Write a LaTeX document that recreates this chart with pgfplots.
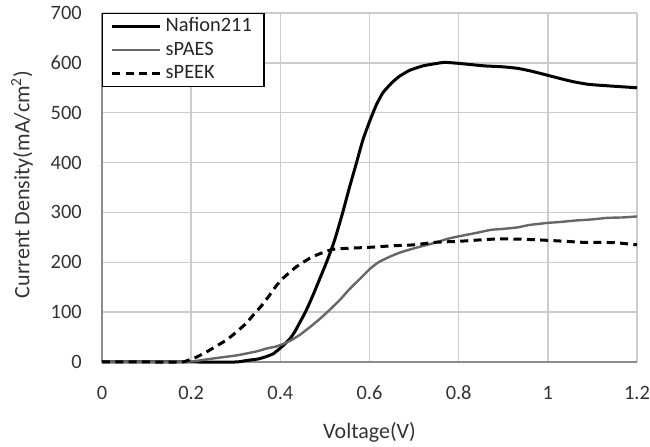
\documentclass[border=0pt]{standalone}
\usepackage{pgfplots}
\pgfplotsset{compat=1.18}
\usepackage{fontspec}
\setmainfont{Carlito}
\usetikzlibrary{calc}
\definecolor{txt}{HTML}{333333}
\definecolor{gridc}{HTML}{CCCCCC}
\definecolor{axc}{HTML}{8C8C8C}
\definecolor{paes}{HTML}{666666}
\begin{document}
\begin{tikzpicture}
\begin{axis}[
  name=ax,
  scale only axis,
  width=401.25pt, height=261.75pt,
  xmin=0, xmax=1.2, ymin=0, ymax=700,
  xtick={0,0.2,0.4,0.6,0.8,1,1.2},
  ytick={0,100,200,300,400,500,600,700},
  /pgf/number format/assume math mode=true,
  major tick length=0pt,
  axis lines=left,
  axis line style={draw=axc, line width=1pt, -},
  grid=major,
  grid style={draw=gridc, line width=1pt},
  xticklabel style={font=\fontsize{15.3}{18}\selectfont, text=txt, anchor=center, inner sep=0pt, yshift=-23pt},
  yticklabel style={font=\fontsize{15.3}{18}\selectfont, text=txt, anchor=east, inner sep=0pt, xshift=-15pt},
  every axis x label/.style={at={(rel axis cs:0.5,0)}, anchor=center, yshift=-53pt, font=\fontsize{16.5}{20}\selectfont, text=txt},
  every axis y label/.style={at={(rel axis cs:0,0.5)}, xshift=-60pt, yshift=2.25pt, rotate=90, anchor=center, font=\fontsize{16.5}{20}\selectfont, text=txt},
  xlabel={Voltage(V)},
  ylabel={Current Density(mA/cm\textsuperscript{2})},
  legend image code/.code={\draw[#1] (0pt,0pt) -- (36pt,0pt);},
  legend style={at={(rel axis cs:0,1)}, anchor=north west, draw=black, line width=1.1pt, fill=white,
    font=\fontsize{15.3}{18}\selectfont, text=black!85, inner xsep=6pt, inner ysep=1pt, row sep=0pt,
    nodes={inner ysep=1.5pt, inner xsep=3pt, text height=11pt, text depth=3.5pt},
    cells={anchor=west}},
  legend cell align=left,
  clip=false,
]
\addplot[black, line width=2.25pt, smooth, tension=0.3] coordinates {
(0,0)(0.2,0)(0.3,0)(0.324,3)(0.35,6)(0.369,11)(0.385,17)(0.4,28)(0.41,36)(0.421,46)(0.432,60)(0.443,78)(0.455,98)(0.466,119)(0.477,142)(0.488,166)(0.5,192)(0.51,215)(0.522,245)(0.54,300)(0.555,350)(0.57,397)(0.585,445)(0.6,482)(0.615,515)(0.63,540)(0.65,560)(0.667,573)(0.69,585)(0.72,594)(0.745,598)(0.768,601)(0.8,599)(0.857,594)(0.9,592)(0.932,589)(0.96,584)(1.0,575)(1.03,568)(1.058,562)(1.09,557)(1.117,555)(1.15,553)(1.2,550)
};
\addlegendentry{Nafion211}
\addplot[paes, line width=1.8pt, smooth, tension=0.3] coordinates {
(0,0)(0.15,0)(0.2,1)(0.249,7)(0.3,13)(0.324,17)(0.35,22)(0.369,27)(0.39,31)(0.406,36)(0.425,44)(0.443,54)(0.465,69)(0.488,86)(0.51,104)(0.533,124)(0.555,146)(0.58,168)(0.6,186)(0.62,200)(0.645,211)(0.67,220)(0.7,228)(0.746,239)(0.775,247)(0.8,252)(0.84,259)(0.872,265)(0.9,267)(0.932,270)(0.96,275)(1.0,279)(1.03,281)(1.065,284)(1.1,286)(1.132,289)(1.17,290)(1.2,292)
};
\addlegendentry{sPAES}
\addplot[black, line width=2.25pt, dash pattern=on 6pt off 4pt, smooth, tension=0.3] coordinates {
(0,0)(0.1,0)(0.18,0)(0.189,2)(0.21,9)(0.234,20)(0.255,31)(0.279,44)(0.3,59)(0.324,78)(0.34,95)(0.357,112)(0.375,133)(0.391,153)(0.405,167)(0.421,180)(0.436,191)(0.451,200)(0.47,210)(0.488,217)(0.518,226)(0.55,228)(0.6,230)(0.65,233)(0.7,235)(0.746,240)(0.77,241)(0.8,242)(0.85,245)(0.894,247)(0.95,246)(1.0,244)(1.04,242)(1.08,240)(1.12,240)(1.155,239)(1.2,235)
};
\addlegendentry{sPEEK}
\coordinate (sw) at (rel axis cs:0,0);
\coordinate (ne) at (rel axis cs:1,1);
\end{axis}
\pgfresetboundingbox
\path[use as bounding box] ($(sw)+(-76.5pt,-63.75pt)$) rectangle ($(ne)+(9.75pt,9.75pt)$);
\end{tikzpicture}
\end{document}
